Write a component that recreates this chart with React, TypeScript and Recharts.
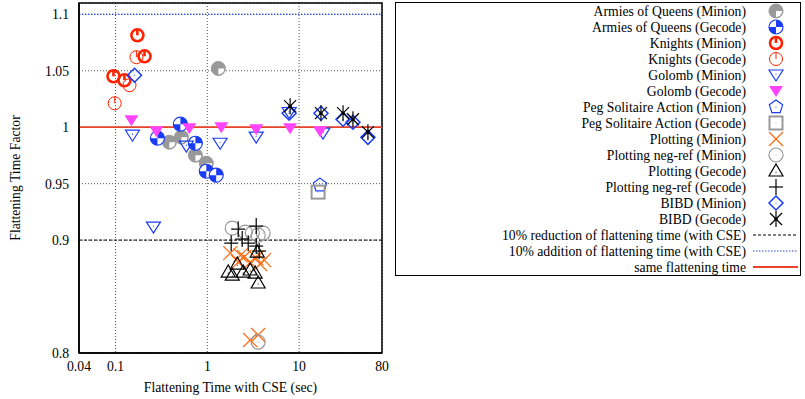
import {
  ScatterChart,
  Scatter,
  XAxis,
  YAxis,
  CartesianGrid,
  ReferenceLine,
  ReferenceArea,
  Legend,
} from "recharts";

const FONT = '"Liberation Serif", "Times New Roman", serif';
const FS = 13.7;

const BLUE = "#1a3cf5";
const GRAY = "#999999";
const RED = "#ff2200";
const ORANGE = "#ff6a10";
const MAGENTA = "#ff44ff";

// axis ticks
const xTicks = [0.04, 0.1, 1, 10, 80];
const yTicks = [0.8, 0.9, 0.95, 1, 1.05, 1.1];

// series values: [flattening time with CSE (sec), flattening time factor]
const armiesMinion = [[1.32, 1.052], [0.386, 0.9867], [0.522, 0.9912], [0.741, 0.9752], [0.975, 0.9681]];
const armiesGecode = [[0.286, 0.9903], [0.509, 1.0027], [0.741, 0.9858], [0.975, 0.961], [1.25, 0.9575]];
const knightsMinion = [[0.173, 1.0814], [0.207, 1.0628], [0.095, 1.0451], [0.125, 1.0416]];
const knightsGecode = [[0.169, 1.062], [0.142, 1.0372], [0.098, 1.0212]];
const golombMinion = [[0.153, 0.9929], [0.259, 0.9115], [0.591, 0.9832], [1.38, 0.9858], [3.41, 0.9912], [7.79, 1.013], [18.2, 0.9947]];
const golombGecode = [[0.149, 1.0062], [0.279, 0.9965], [0.637, 0.9991], [1.42, 1.0], [3.41, 0.9982], [7.98, 0.9991], [16.9, 0.9965]];
const pegMinion = [[16.9, 0.9487]];
const pegGecode = [[16.1, 0.9425]];
const plottingMinion = [[1.78, 0.8885], [2.17, 0.8805], [2.52, 0.885], [2.93, 0.8805], [3.41, 0.8841], [3.76, 0.8788], [4.16, 0.8823], [2.3, 0.8865], [3.58, 0.8159], [2.93, 0.8115]];
const plottingNegMinion = [[1.87, 0.9106], [2.59, 0.9071], [3.09, 0.9062], [3.58, 0.9044], [4.06, 0.9062], [3.58, 0.8097]];
const plottingGecode = [[1.69, 0.8717], [1.87, 0.869], [2.12, 0.8788], [2.46, 0.8717], [2.93, 0.8735], [3.32, 0.8708], [3.5, 0.8894], [3.58, 0.862]];
const plottingNegGecode = [[2.17, 0.9097], [3.41, 0.9124], [1.82, 0.8973], [2.4, 0.9009], [2.79, 0.8973], [3.41, 0.8947], [3.67, 0.8903]];
const bibdMinion = [[0.161, 1.046], [7.79, 1.0124], [17.3, 1.0124], [30.1, 1.007], [38.6, 1.0044], [56.2, 0.991]];
const bibdGecode = [[7.98, 1.0186], [17.3, 1.0124], [30.1, 1.0124], [38.6, 1.007], [56.2, 0.9956]];

const series = [
  { name: "Armies of Queens (Minion)", kind: "halfGray", values: armiesMinion },
  { name: "Armies of Queens (Gecode)", kind: "checkBlue", values: armiesGecode },
  { name: "Knights (Minion)", kind: "thickRed", values: knightsMinion },
  { name: "Knights (Gecode)", kind: "thinRed", values: knightsGecode },
  { name: "Golomb (Minion)", kind: "downBlue", values: golombMinion },
  { name: "Golomb (Gecode)", kind: "downMagenta", values: golombGecode },
  { name: "Peg Solitaire Action (Minion)", kind: "pentagon", values: pegMinion },
  { name: "Peg Solitaire Action (Gecode)", kind: "square", values: pegGecode },
  { name: "Plotting (Minion)", kind: "cross", values: plottingMinion },
  { name: "Plotting neg-ref (Minion)", kind: "grayCircle", values: plottingNegMinion },
  { name: "Plotting (Gecode)", kind: "upBlack", values: plottingGecode },
  { name: "Plotting neg-ref (Gecode)", kind: "plus", values: plottingNegGecode },
  { name: "BIBD (Minion)", kind: "diamond", values: bibdMinion },
  { name: "BIBD (Gecode)", kind: "star", values: bibdGecode },
];

const refLines = [
  { name: "10% reduction of flattening time (with CSE)", y: 0.9, color: "#000000", dash: "3 2", width: 1 },
  { name: "10% addition of flattening time (with CSE)", y: 1.1, color: "#2a4ad8", dash: "1.5 1.5", width: 1.2 },
  { name: "same flattening time", y: 1, color: "#e8442c", dash: undefined, width: 1.8 },
];

function quad(cx: number, cy: number, r: number, q: string) {
  if (q === "tr") return `M${cx},${cy}L${cx},${cy - r}A${r},${r} 0 0 1 ${cx + r},${cy}Z`;
  if (q === "br") return `M${cx},${cy}L${cx + r},${cy}A${r},${r} 0 0 1 ${cx},${cy + r}Z`;
  if (q === "bl") return `M${cx},${cy}L${cx},${cy + r}A${r},${r} 0 0 1 ${cx - r},${cy}Z`;
  return `M${cx},${cy}L${cx - r},${cy}A${r},${r} 0 0 1 ${cx},${cy - r}Z`;
}

function Dot({ cx, cy, color }: { cx: number; cy: number; color: string }) {
  return <circle cx={cx} cy={cy} r={0.6} fill={color} />;
}

function Marker({ kind, cx, cy }: { kind: string; cx: number; cy: number }) {
  if (cx == null || cy == null) return null;
  switch (kind) {
    case "halfGray":
      return (
        <g>
          <circle cx={cx} cy={cy} r={7} fill={GRAY} />
          <path d={quad(cx, cy, 6, "br")} fill="#fff" />
          <circle cx={cx} cy={cy} r={7} fill="none" stroke={GRAY} strokeWidth={1} />
        </g>
      );
    case "checkBlue":
      return (
        <g>
          <circle cx={cx} cy={cy} r={7} fill="#fff" />
          <path d={quad(cx, cy, 7, "tr")} fill={BLUE} />
          <path d={quad(cx, cy, 7, "bl")} fill={BLUE} />
          <circle cx={cx} cy={cy} r={7} fill="none" stroke={BLUE} strokeWidth={1.2} />
        </g>
      );
    case "thickRed":
      return (
        <g fill="none" stroke={RED} strokeWidth={2.6}>
          <circle cx={cx} cy={cy} r={6} />
          <line x1={cx} y1={cy - 6} x2={cx} y2={cy} />
        </g>
      );
    case "thinRed":
      return (
        <g fill="none" stroke={RED} strokeWidth={1}>
          <circle cx={cx} cy={cy} r={6.5} />
          <line x1={cx} y1={cy - 6.5} x2={cx} y2={cy} />
        </g>
      );
    case "downBlue":
      return (
        <g>
          <path d={`M${cx - 7},${cy - 5}L${cx + 7},${cy - 5}L${cx},${cy + 6}Z`} fill="none" stroke={BLUE} strokeWidth={1.2} />
          <Dot cx={cx} cy={cy - 1} color={BLUE} />
        </g>
      );
    case "downMagenta":
      return <path d={`M${cx - 7},${cy - 5}L${cx + 7},${cy - 5}L${cx},${cy + 6}Z`} fill={MAGENTA} />;
    case "pentagon": {
      const pts = [0, 1, 2, 3, 4]
        .map((i) => {
          const a = -Math.PI / 2 + (i * 2 * Math.PI) / 5;
          return `${cx + 7 * Math.cos(a)},${cy + 7 * Math.sin(a)}`;
        })
        .join(" ");
      return (
        <g>
          <polygon points={pts} fill="none" stroke={BLUE} strokeWidth={1.2} />
          <Dot cx={cx} cy={cy} color={BLUE} />
        </g>
      );
    }
    case "square":
      return (
        <g>
          <rect x={cx - 6.5} y={cy - 6.5} width={13} height={13} fill="none" stroke={GRAY} strokeWidth={2} />
          <Dot cx={cx} cy={cy} color={GRAY} />
        </g>
      );
    case "cross":
      return (
        <g stroke={ORANGE} strokeWidth={1.2}>
          <line x1={cx - 7} y1={cy - 7} x2={cx + 7} y2={cy + 7} />
          <line x1={cx - 7} y1={cy + 7} x2={cx + 7} y2={cy - 7} />
        </g>
      );
    case "grayCircle":
      return (
        <g>
          <circle cx={cx} cy={cy} r={7} fill="none" stroke={GRAY} strokeWidth={1.2} />
          <Dot cx={cx} cy={cy} color={GRAY} />
        </g>
      );
    case "upBlack":
      return (
        <g>
          <path d={`M${cx - 7},${cy + 5}L${cx + 7},${cy + 5}L${cx},${cy - 7}Z`} fill="none" stroke="#000" strokeWidth={1.2} />
          <Dot cx={cx} cy={cy + 1} color="#000" />
        </g>
      );
    case "plus":
      return (
        <g stroke="#000" strokeWidth={1.2}>
          <line x1={cx - 7} y1={cy} x2={cx + 7} y2={cy} />
          <line x1={cx} y1={cy - 8} x2={cx} y2={cy + 8} />
        </g>
      );
    case "diamond":
      return (
        <g>
          <path d={`M${cx},${cy - 7}L${cx + 7},${cy}L${cx},${cy + 7}L${cx - 7},${cy}Z`} fill="none" stroke={BLUE} strokeWidth={1.5} />
          <Dot cx={cx} cy={cy} color={BLUE} />
        </g>
      );
    case "star":
      return (
        <g stroke="#000" strokeWidth={1.2}>
          <line x1={cx} y1={cy - 8} x2={cx} y2={cy + 8} />
          <line x1={cx - 6} y1={cy - 6} x2={cx + 6} y2={cy + 6} />
          <line x1={cx - 6} y1={cy + 6} x2={cx + 6} y2={cy - 6} />
          <circle cx={cx} cy={cy} r={1.8} fill="#000" stroke="none" />
        </g>
      );
    default:
      return null;
  }
}

function LegendBox() {
  return (
    <svg width={406} height={274} style={{ display: "block" }}>
      <rect x={0.5} y={0.5} width={405} height={273} fill="#fff" stroke="#000" strokeWidth={1} />
      {series.map((s, i) => {
        const y = 9 + 16 * i;
        return (
          <g key={s.name}>
            <text x={351} y={y} dy="0.35em" textAnchor="end" fontFamily={FONT} fontSize={FS} fill="#000">
              {s.name}
            </text>
            <Marker kind={s.kind} cx={381} cy={y} />
          </g>
        );
      })}
      {refLines.map((r, j) => {
        const y = 9 + 16 * (series.length + j);
        return (
          <g key={r.name}>
            <text x={351} y={y} dy="0.35em" textAnchor="end" fontFamily={FONT} fontSize={FS} fill="#000">
              {r.name}
            </text>
            <line x1={358} y1={y} x2={403} y2={y} stroke={r.color} strokeWidth={r.width} strokeDasharray={r.dash} />
          </g>
        );
      })}
    </svg>
  );
}

export default function App() {
  return (
    <div style={{ position: "absolute", left: 0, top: 0, width: 805, height: 399, background: "#fff" }}>
      <ScatterChart width={805} height={399} margin={{ top: 3, right: 423, bottom: 0, left: 0 }}>
        <CartesianGrid stroke="#555" strokeDasharray="1 2" strokeWidth={1} />
        <XAxis
          type="number"
          dataKey="x"
          scale="log"
          domain={[0.04, 80]}
          ticks={xTicks}
          allowDataOverflow
          height={46}
          tickLine={false}
          tickSize={6}
          axisLine={{ stroke: "#000", strokeWidth: 1.5 }}
          tick={{ fontFamily: FONT, fontSize: FS, fill: "#000" }}
          tickFormatter={(v) => String(v)}
          label={{
            value: "Flattening Time with CSE (sec)",
            position: "insideBottom",
            offset: 7,
            style: { fontFamily: FONT, fontSize: FS, fill: "#000" },
          }}
        />
        <YAxis
          type="number"
          dataKey="y"
          domain={[0.8, 1.11]}
          ticks={yTicks}
          allowDataOverflow
          width={79}
          tickLine={false}
          tickSize={6}
          tickMargin={4}
          axisLine={{ stroke: "#000", strokeWidth: 1.5 }}
          tick={{ fontFamily: FONT, fontSize: FS, fill: "#000" }}
          tickFormatter={(v) => String(v)}
          label={{
            value: "Flattening Time Factor",
            angle: -90,
            position: "insideLeft",
            offset: 15,
            style: { fontFamily: FONT, fontSize: FS, fill: "#000", textAnchor: "middle" },
          }}
        />
        <ReferenceArea
          x1={0.04}
          x2={80}
          y1={0.8}
          y2={1.11}
          fill="none"
          fillOpacity={0}
          stroke="#000"
          strokeWidth={1.5}
          ifOverflow="visible"
        />
        {refLines.map((r) => (
          <ReferenceLine
            key={r.name}
            y={r.y}
            stroke={r.color}
            strokeWidth={r.width}
            strokeDasharray={r.dash}
          />
        ))}
        {series.map((s) => (
          <Scatter
            key={s.name}
            name={s.name}
            data={s.values.map(([x, y]) => ({ x, y }))}
            isAnimationActive={false}
            shape={(p: any) => <Marker kind={s.kind} cx={p.cx} cy={p.cy} />}
          />
        ))}
        <Legend
          layout="vertical"
          align="center"
          verticalAlign="middle"
          wrapperStyle={{ left: 395, top: 2, width: 406, height: 274 }}
          content={() => <LegendBox />}
        />
      </ScatterChart>
    </div>
  );
}
